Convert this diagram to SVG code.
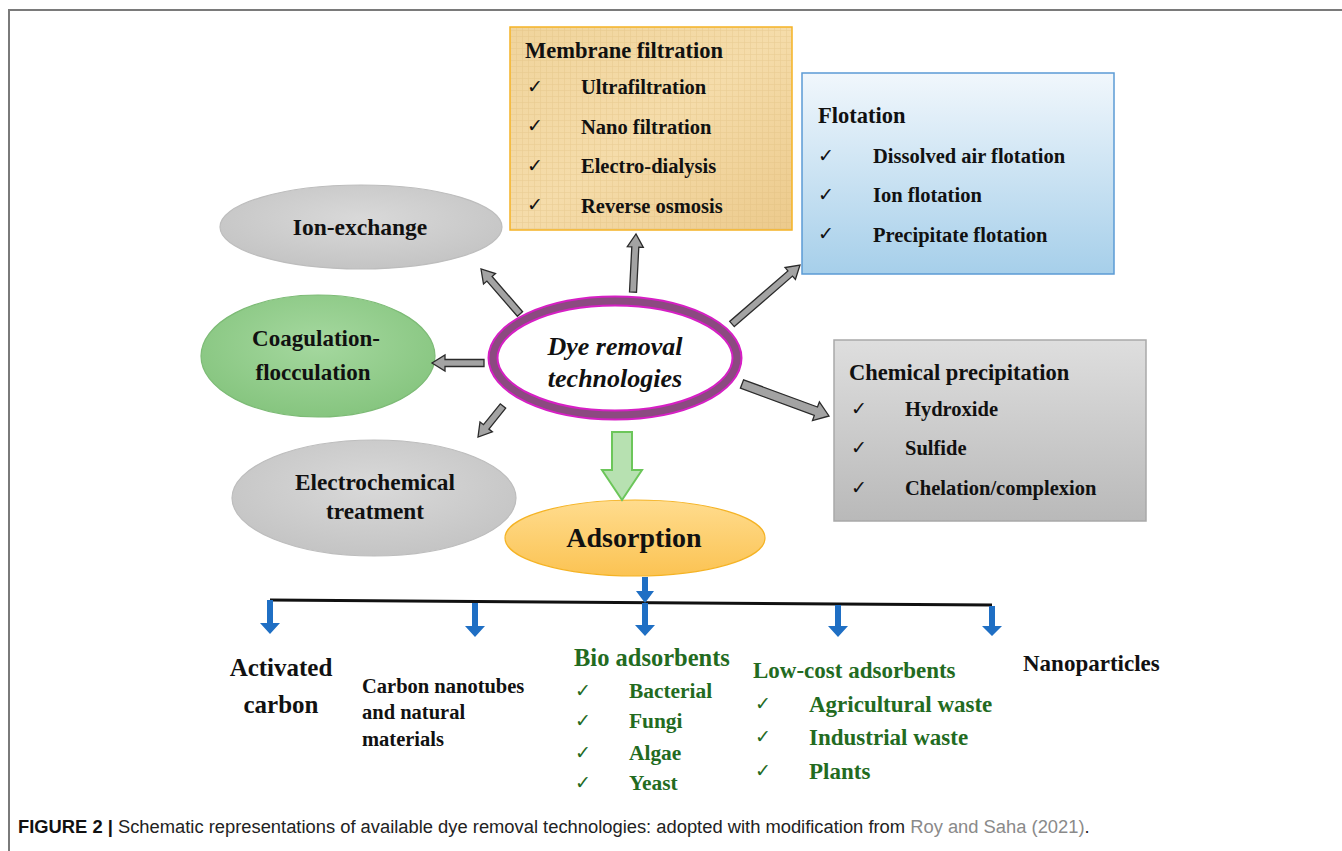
<svg xmlns="http://www.w3.org/2000/svg" width="1342" height="851" viewBox="0 0 1342 851">
<style>
.t{font-family:"Liberation Serif","Times New Roman",serif;font-weight:bold;fill:#111}
.h{font-size:22.5px}
.i{font-size:20.5px}
.ck{font-family:"DejaVu Sans",sans-serif;font-size:19px;fill:#111}
.g{fill:#236b1f}
.blk{fill:#a3a3a3;stroke:#2b2b2b;stroke-width:1.3;stroke-linejoin:miter}
.blue{fill:#1f6fc4}
.cap{font-family:"Liberation Sans",Arial,sans-serif;font-size:18.35px;fill:#222}
</style>
<defs>
<linearGradient id="gBlue" x1="0" y1="0" x2="0" y2="1">
<stop offset="0" stop-color="#f1f7fc"/><stop offset="1" stop-color="#a6cfea"/>
</linearGradient>
<linearGradient id="gGray" x1="0" y1="0" x2="0" y2="1">
<stop offset="0" stop-color="#dedede"/><stop offset="1" stop-color="#b9b9b9"/>
</linearGradient>
<linearGradient id="gTan" x1="0" y1="0" x2="1" y2="1">
<stop offset="0" stop-color="#f0d49c"/><stop offset="0.5" stop-color="#f5dcaa"/><stop offset="1" stop-color="#ecca8c"/>
</linearGradient>
<pattern id="pTex" width="6" height="6" patternUnits="userSpaceOnUse">
<path d="M0 0.5H6M0.5 0V6" stroke="#d9b676" stroke-width="0.6" opacity="0.4"/>
</pattern>
<radialGradient id="gOval" cx="0.5" cy="0.4" r="0.6">
<stop offset="0" stop-color="#d9d9d9"/><stop offset="1" stop-color="#c4c4c4"/>
</radialGradient>
<radialGradient id="gGreen" cx="0.5" cy="0.4" r="0.6">
<stop offset="0" stop-color="#a5d89f"/><stop offset="1" stop-color="#86c57f"/>
</radialGradient>
<linearGradient id="gOrange" x1="0" y1="0" x2="0" y2="1">
<stop offset="0" stop-color="#ffdc8e"/><stop offset="1" stop-color="#fbc353"/>
</linearGradient>
</defs>

<rect width="1342" height="851" fill="#fff"/>
<path d="M9 851V10H1342" fill="none" stroke="#7a7a7a" stroke-width="2"/>

<g id="membrane">
<rect x="510" y="27" width="282" height="203" fill="url(#gTan)" stroke="#f5b324" stroke-width="1.5"/>
<rect x="511" y="28" width="280" height="201" fill="url(#pTex)"/>
<text class="t h" x="525" y="58">Membrane filtration</text>
<text class="ck" x="527" y="93">✓</text><text class="t i" x="581" y="94">Ultrafiltration</text>
<text class="ck" x="527" y="132">✓</text><text class="t i" x="581" y="134">Nano filtration</text>
<text class="ck" x="527" y="172">✓</text><text class="t i" x="581" y="173">Electro-dialysis</text>
<text class="ck" x="527" y="211">✓</text><text class="t i" x="581" y="213">Reverse osmosis</text>
</g>

<g id="flotation">
<rect x="802" y="73" width="312" height="201" fill="url(#gBlue)" stroke="#5b9bd5" stroke-width="1.5"/>
<text class="t h" x="818" y="123">Flotation</text>
<text class="ck" x="818" y="162">✓</text><text class="t i" x="873" y="163">Dissolved air flotation</text>
<text class="ck" x="818" y="201">✓</text><text class="t i" x="873" y="202">Ion flotation</text>
<text class="ck" x="818" y="240">✓</text><text class="t i" x="873" y="242">Precipitate flotation</text>
</g>

<g id="chemical">
<rect x="834" y="340" width="312" height="181" fill="url(#gGray)" stroke="#a9a9a9" stroke-width="1.5"/>
<text class="t h" x="849" y="380">Chemical precipitation</text>
<text class="ck" x="851" y="415">✓</text><text class="t i" x="905" y="416">Hydroxide</text>
<text class="ck" x="851" y="454">✓</text><text class="t i" x="905" y="455">Sulfide</text>
<text class="ck" x="851" y="494">✓</text><text class="t i" x="905" y="495">Chelation/complexion</text>
</g>

<g id="ion-exchange">
<ellipse cx="361" cy="227" rx="141" ry="42" fill="url(#gOval)" stroke="#bdbdbd" stroke-width="1.2"/>
<text class="t" x="360" y="235" font-size="23.5" text-anchor="middle">Ion-exchange</text>
</g>

<g id="coagulation">
<ellipse cx="318" cy="356" rx="117" ry="61" fill="url(#gGreen)" stroke="#7dbb76" stroke-width="1.2"/>
<text class="t" x="316" y="346" font-size="23" text-anchor="middle">Coagulation-</text>
<text class="t" x="313" y="380" font-size="23" text-anchor="middle">flocculation</text>
</g>

<g id="electrochemical">
<ellipse cx="374" cy="498" rx="142" ry="58" fill="url(#gOval)" stroke="#bdbdbd" stroke-width="1.2"/>
<text class="t" x="375" y="490" font-size="23.3" text-anchor="middle">Electrochemical</text>
<text class="t" x="375" y="519" font-size="23.3" text-anchor="middle">treatment</text>
</g>

<g id="dye-removal">
<ellipse cx="615" cy="358" rx="122" ry="57" fill="#fff" stroke="#d61fc4" stroke-width="11"/>
<ellipse cx="615" cy="358" rx="122" ry="57" fill="none" stroke="#8b4a80" stroke-width="7"/>
<text class="t" x="615" y="355" font-size="26" font-style="italic" text-anchor="middle">Dye removal</text>
<text class="t" x="615" y="387" font-size="26" font-style="italic" text-anchor="middle">technologies</text>
</g>

<g id="adsorption">
<ellipse cx="635" cy="538" rx="130" ry="38" fill="url(#gOrange)" stroke="#f5b324" stroke-width="1.2"/>
<text class="t" x="634" y="547" font-size="28" text-anchor="middle">Adsorption</text>
</g>

<g id="activated-carbon">
<text class="t" x="281" y="676" font-size="25" text-anchor="middle">Activated</text>
<text class="t" x="281" y="713" font-size="25" text-anchor="middle">carbon</text>
</g>

<g id="carbon-nanotubes">
<text class="t" x="362" y="693" font-size="20.5">Carbon nanotubes</text>
<text class="t" x="362" y="719" font-size="20.5">and natural</text>
<text class="t" x="362" y="746" font-size="20.5">materials</text>
</g>

<g id="bio-adsorbents">
<text class="t g" x="574" y="666" font-size="24.5">Bio adsorbents</text>
<text class="ck g" x="575" y="697">✓</text><text class="t g" x="629" y="698" font-size="21.4">Bacterial</text>
<text class="ck g" x="575" y="727">✓</text><text class="t g" x="629" y="728" font-size="21.4">Fungi</text>
<text class="ck g" x="575" y="759">✓</text><text class="t g" x="629" y="760" font-size="21.4">Algae</text>
<text class="ck g" x="575" y="789">✓</text><text class="t g" x="629" y="790" font-size="21.4">Yeast</text>
</g>

<g id="low-cost">
<text class="t g" x="753" y="678" font-size="23">Low-cost adsorbents</text>
<text class="ck g" x="755" y="710">✓</text><text class="t g" x="809" y="712" font-size="23">Agricultural waste</text>
<text class="ck g" x="755" y="743">✓</text><text class="t g" x="809" y="745" font-size="23">Industrial waste</text>
<text class="ck g" x="755" y="777">✓</text><text class="t g" x="809" y="779" font-size="23">Plants</text>
</g>

<g id="nanoparticles">
<text class="t" x="1023" y="671" font-size="23">Nanoparticles</text>
</g>

<g id="connectors">
<polygon class="blk" points="522.6,311.7 492.1,276.5 495.5,273.6 481,269 483.5,284.0 486.9,281.1 517.4,316.3"/>
<polygon class="blk" points="636.5,292.2 638.8,247.2 643.3,247.4 636,234 627.3,246.6 631.8,246.8 629.5,291.8"/>
<polygon class="blk" points="734.3,326.6 792.5,276.1 795.4,279.5 800,265 785.0,267.5 787.9,270.9 729.7,321.4"/>
<polygon class="blk" points="484,359.5 445,359.5 445,355 432,363 445,371 445,366.5 484,366.5"/>
<polygon class="blk" points="500.3,403.8 483.5,424.7 480.0,421.9 478,437 492.4,431.9 488.9,429.1 505.7,408.2"/>
<polygon class="blk" points="740.4,388.2 814.3,415.4 812.5,420.6 829,416 819.4,401.8 817.5,407.0 743.6,379.8"/>
<polygon points="612,432 632,432 632,470 642,470 622,500 602,470 612,470" fill="#b7e1b1" stroke="#6cc65a" stroke-width="2"/>
<path d="M270 600L992 605" stroke="#111" stroke-width="3"/>
<path class="blue" d="M642 577h6v14h6l-9 12l-9-12h6z"/>
<path class="blue" d="M267 600h6v23h7l-10 11l-10-11h7z"/>
<path class="blue" d="M472 603h6v23h7l-10 11l-10-11h7z"/>
<path class="blue" d="M642 603h6v22h7l-10 11l-10-11h7z"/>
<path class="blue" d="M835 605h6v21h7l-10 11l-10-11h7z"/>
<path class="blue" d="M989 606h6v20h7l-10 10l-10-10h7z"/>
</g>

<text class="cap" x="18" y="833"><tspan font-weight="bold" fill="#111">FIGURE 2 |</tspan> Schematic representations of available dye removal technologies: adopted with modification from <tspan fill="#8a8a8a">Roy and Saha (2021)</tspan>.</text>
</svg>
